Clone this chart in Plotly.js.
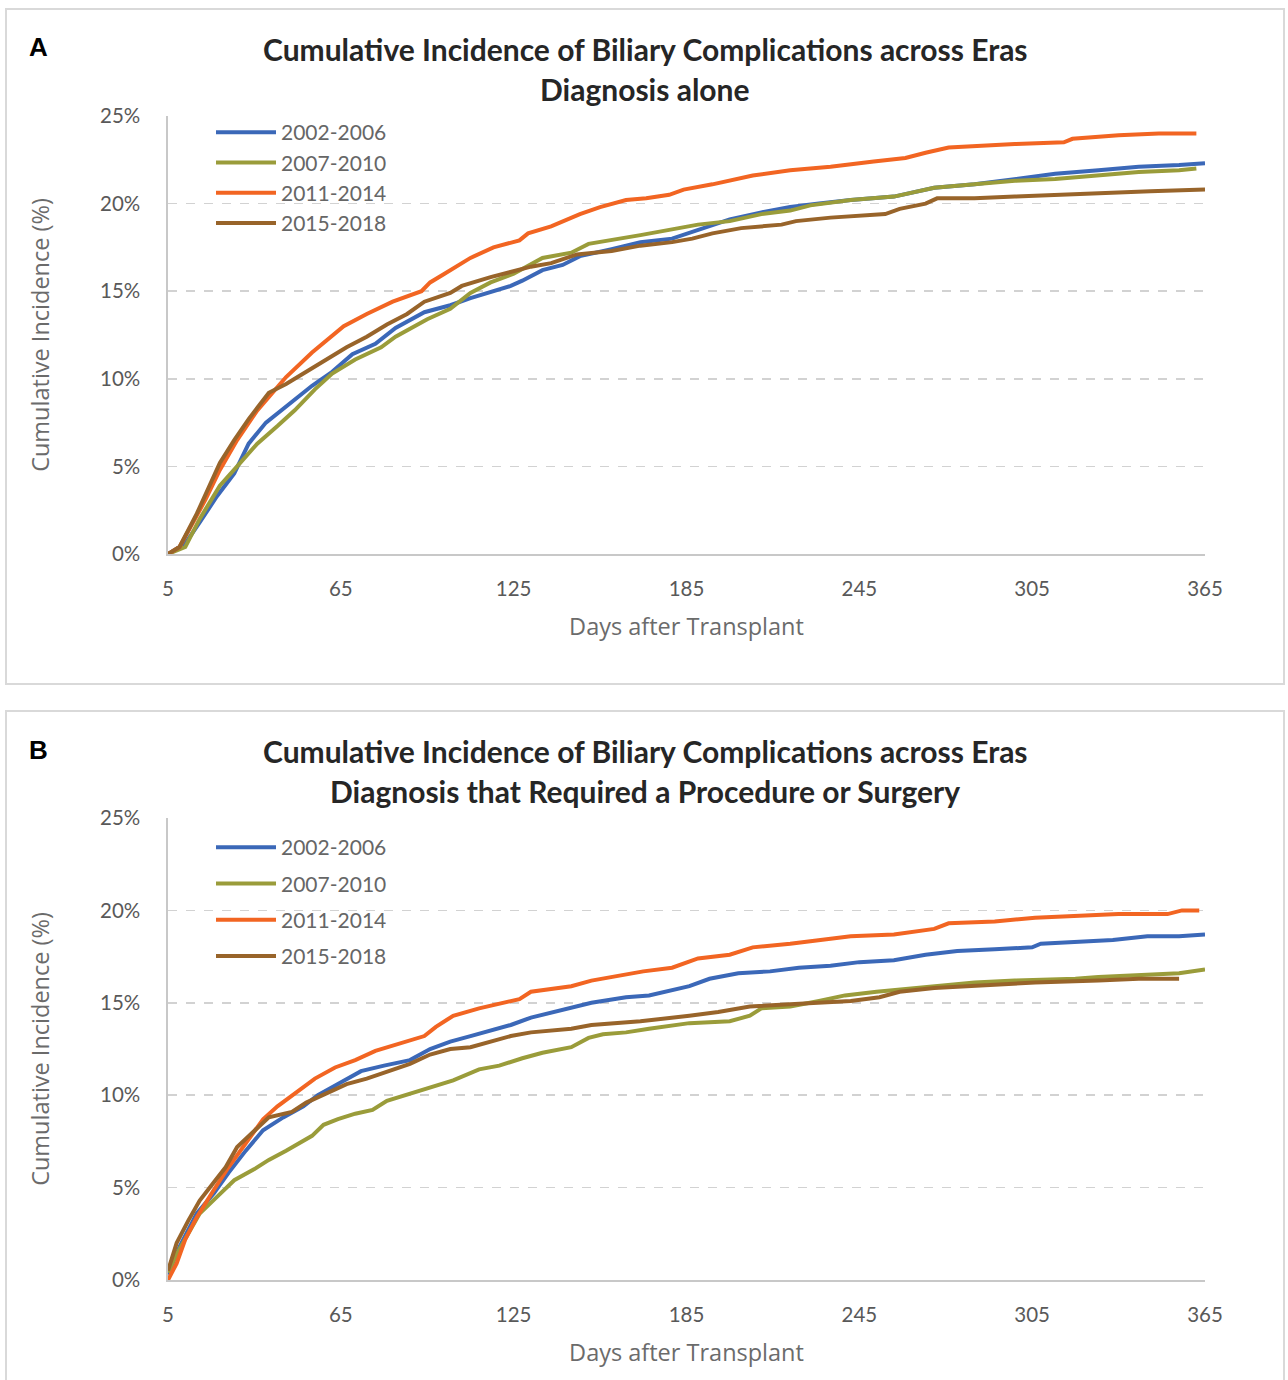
<!DOCTYPE html>
<html>
<head>
<meta charset="utf-8">
<script src="https://cdn.plot.ly/plotly-3.0.1.min.js"></script>
<style>
  html, body { margin: 0; padding: 0; background: #ffffff; }
  #wrap { position: relative; width: 1288px; height: 1380px; overflow: hidden; }
  .frame { position: absolute; box-sizing: border-box; border: 2px solid #d9d9d9; background: #fff; }
  .plot { position: absolute; left: 0; }
</style>
</head>
<body>
<div id="wrap">
  <div class="frame" style="left:5px; top:8px; width:1280px; height:677px;"></div>
  <div class="frame" style="left:5px; top:710px; width:1280px; height:680px;"></div>
  <div id="chartA" class="plot" style="top:0px;"></div>
  <div id="chartB" class="plot" style="top:700px;"></div>
</div>
<script>
// ---------------- DATA ----------------
var seriesNames = ["2002-2006", "2007-2010", "2011-2014", "2015-2018"];
var xTickVals = [5, 65, 125, 185, 245, 305, 365];
var yTickVals = [0, 5, 10, 15, 20, 25];

// Panel A: Diagnosis alone (days after transplant, cumulative incidence %)
var aDays2002 = [5, 11, 16, 22, 28, 33, 39, 46, 55, 62, 69, 77, 84, 94, 103, 110, 124, 128, 135, 142, 148, 159, 169, 180, 189, 200, 211, 221, 231, 242, 257, 271, 285, 299, 313, 328, 342, 356, 365];
var aVals2002 = [0, 0.6, 1.8, 3.3, 4.6, 6.3, 7.5, 8.4, 9.6, 10.4, 11.4, 12.0, 12.9, 13.8, 14.2, 14.6, 15.3, 15.6, 16.2, 16.5, 17.0, 17.4, 17.8, 18.0, 18.5, 19.1, 19.5, 19.8, 20.0, 20.2, 20.4, 20.9, 21.1, 21.4, 21.7, 21.9, 22.1, 22.2, 22.3];

var aDays2007 = [5, 11, 16, 23, 29, 36, 43, 49, 56, 62, 70, 79, 84, 95, 103, 110, 117, 125, 135, 145, 151, 159, 169, 179, 189, 200, 211, 221, 228, 242, 257, 271, 285, 299, 313, 328, 342, 356, 362];
var aVals2007 = [0, 0.4, 2.0, 3.9, 5.0, 6.3, 7.3, 8.2, 9.4, 10.3, 11.1, 11.8, 12.4, 13.4, 14.0, 14.9, 15.5, 16.0, 16.9, 17.2, 17.7, 17.9, 18.2, 18.5, 18.8, 19.0, 19.4, 19.6, 19.9, 20.2, 20.4, 20.9, 21.1, 21.3, 21.4, 21.6, 21.8, 21.9, 22.0];

var aDays2011 = [5, 9, 14, 18, 23, 29, 36, 46, 55, 60, 66, 74, 83, 93, 96, 101, 110, 118, 127, 130, 138, 148, 155, 164, 171, 179, 184, 194, 200, 208, 221, 235, 250, 261, 268, 276, 299, 316, 319, 335, 349, 362];
var aVals2011 = [0, 0.4, 1.9, 3.1, 4.8, 6.5, 8.2, 10.1, 11.5, 12.2, 13.0, 13.7, 14.4, 15.0, 15.5, 16.0, 16.9, 17.5, 17.9, 18.3, 18.7, 19.4, 19.8, 20.2, 20.3, 20.5, 20.8, 21.1, 21.3, 21.6, 21.9, 22.1, 22.4, 22.6, 22.9, 23.2, 23.4, 23.5, 23.7, 23.9, 24.0, 24.0];

var aDays2015 = [5, 9, 15, 19, 23, 28, 33, 40, 46, 53, 60, 67, 74, 81, 88, 94, 103, 107, 117, 124, 131, 138, 147, 159, 169, 180, 187, 194, 204, 218, 223, 235, 254, 259, 268, 272, 285, 299, 313, 328, 346, 365];
var aVals2015 = [0, 0.4, 2.3, 3.7, 5.2, 6.5, 7.7, 9.2, 9.7, 10.4, 11.1, 11.8, 12.4, 13.1, 13.7, 14.4, 14.9, 15.3, 15.8, 16.1, 16.4, 16.6, 17.1, 17.3, 17.6, 17.8, 18.0, 18.3, 18.6, 18.8, 19.0, 19.2, 19.4, 19.7, 20.0, 20.3, 20.3, 20.4, 20.5, 20.6, 20.7, 20.8];

// Panel B: Diagnosis that required a procedure or surgery
var bDays2002 = [5, 9, 15, 21, 26, 32, 38, 45, 52, 57, 64, 72, 80, 89, 96, 103, 110, 117, 124, 131, 145, 152, 164, 172, 186, 193, 203, 214, 224, 235, 245, 257, 268, 279, 292, 305, 308, 320, 333, 345, 356, 365];
var bVals2002 = [0.3, 1.8, 3.6, 4.7, 5.8, 7.0, 8.1, 8.8, 9.4, 10.0, 10.6, 11.3, 11.6, 11.9, 12.5, 12.9, 13.2, 13.5, 13.8, 14.2, 14.7, 15.0, 15.3, 15.4, 15.9, 16.3, 16.6, 16.7, 16.9, 17.0, 17.2, 17.3, 17.6, 17.8, 17.9, 18.0, 18.2, 18.3, 18.4, 18.6, 18.6, 18.7];

var bDays2007 = [5, 8, 12, 16, 22, 28, 35, 40, 46, 55, 59, 64, 70, 76, 81, 89, 97, 104, 113, 120, 128, 135, 145, 151, 156, 164, 172, 186, 200, 207, 211, 221, 231, 240, 251, 264, 285, 299, 320, 328, 342, 356, 365];
var bVals2007 = [0.4, 1.4, 2.5, 3.6, 4.5, 5.4, 6.0, 6.5, 7.0, 7.8, 8.4, 8.7, 9.0, 9.2, 9.7, 10.1, 10.5, 10.8, 11.4, 11.6, 12.0, 12.3, 12.6, 13.1, 13.3, 13.4, 13.6, 13.9, 14.0, 14.3, 14.7, 14.8, 15.1, 15.4, 15.6, 15.8, 16.1, 16.2, 16.3, 16.4, 16.5, 16.6, 16.8];

var bDays2011 = [5, 8, 11, 15, 21, 26, 32, 38, 43, 49, 56, 63, 70, 77, 86, 94, 98, 104, 113, 121, 127, 131, 145, 152, 162, 170, 180, 189, 200, 208, 221, 233, 242, 257, 271, 276, 292, 306, 320, 335, 352, 357, 363];
var bVals2011 = [0, 0.9, 2.2, 3.4, 4.9, 6.1, 7.4, 8.7, 9.4, 10.1, 10.9, 11.5, 11.9, 12.4, 12.8, 13.2, 13.7, 14.3, 14.7, 15.0, 15.2, 15.6, 15.9, 16.2, 16.5, 16.7, 16.9, 17.4, 17.6, 18.0, 18.2, 18.4, 18.6, 18.7, 19.0, 19.3, 19.4, 19.6, 19.7, 19.8, 19.8, 20.0, 20.0];

var bDays2015 = [5, 8, 12, 16, 21, 25, 29, 35, 40, 48, 53, 60, 67, 74, 81, 89, 96, 103, 110, 117, 124, 131, 145, 152, 169, 186, 196, 207, 228, 242, 252, 259, 271, 285, 306, 328, 342, 356];
var bVals2015 = [0.5, 2.0, 3.2, 4.3, 5.3, 6.1, 7.2, 8.1, 8.8, 9.1, 9.6, 10.1, 10.6, 10.9, 11.3, 11.7, 12.2, 12.5, 12.6, 12.9, 13.2, 13.4, 13.6, 13.8, 14.0, 14.3, 14.5, 14.8, 15.0, 15.1, 15.3, 15.6, 15.8, 15.9, 16.1, 16.2, 16.3, 16.3];

var titleMain = "Cumulative Incidence of Biliary Complications across Eras";
var subtitleA = "Diagnosis alone";
var subtitleB = "Diagnosis that Required a Procedure or Surgery";
var xTitle = "Days after Transplant";
var yTitle = "Cumulative Incidence (%)";

// ---------------- STYLE ----------------
var colors = ["#3b68b8", "#9a9c3a", "#f26522", "#98642a"];
var W = 1288;
var FONT = "Lato, 'Noto Sans', sans-serif";
var TXT = "#595959";

function buildTraces(daysList, valsList) {
  return daysList.map(function (d, i) {
    return {
      type: "scatter", mode: "lines", name: seriesNames[i],
      legendgroup: "g" + i,
      x: d, y: valsList[i],
      line: { color: colors[i], width: 4 }
    };
  });
}

function buildLayout(H, mt, mb, subtitle, letter, titleY1, titleY2, letterY, legendTop, groupGap) {
  var ml = 168, mr = 83;
  var pw = W - ml - mr, ph = H - mt - mb;
  function px(x) { return (x - ml) / pw; }
  function py(y) { return 1 - (y - mt) / ph; }
  var titleFont = { family: FONT, size: 30, color: "#262626", weight: 700 };
  var axTitleFont = { family: "'Open Sans', sans-serif", size: 23.5, color: "#6b6b6b" };
  return {
    width: W, height: H,
    margin: { l: ml, r: mr, t: mt, b: mb, pad: 0 },
    paper_bgcolor: "rgba(0,0,0,0)",
    plot_bgcolor: "rgba(0,0,0,0)",
    showlegend: true,
    legend: {
      x: px(211), y: py(legendTop), xanchor: "left", yanchor: "top",
      bgcolor: "rgba(0,0,0,0)", borderwidth: 0,
      font: { family: FONT, size: 21, color: "#666666" },
      itemwidth: 60, tracegroupgap: groupGap,
      traceorder: "grouped"
    },
    xaxis: {
      range: [5, 365], tickvals: xTickVals, ticktext: xTickVals.map(String),
      showgrid: false, zeroline: false,
      showline: true, linecolor: "#c8c8c8", linewidth: 2,
      ticks: "", ticklabelstandoff: 15,
      tickfont: { family: FONT, size: 20.5, color: TXT },
      title: { text: xTitle, standoff: 20, font: axTitleFont },
      fixedrange: true
    },
    yaxis: {
      range: [0, 25], tickvals: yTickVals, ticktext: yTickVals.map(function (v) { return v + "%"; }),
      showgrid: true, gridcolor: "#d2d2d2", gridwidth: 1.6, griddash: "dash",
      zeroline: false, showline: true, linecolor: "#c8c8c8", linewidth: 1.6,
      ticks: "", ticklabelstandoff: 22,
      tickfont: { family: FONT, size: 20.5, color: TXT },
      title: { text: yTitle, standoff: 44, font: axTitleFont },
      fixedrange: true
    },
    annotations: [
      { text: titleMain, xref: "paper", yref: "paper", x: px(645), y: py(titleY1), xanchor: "center", yanchor: "middle", showarrow: false, font: titleFont },
      { text: subtitle, xref: "paper", yref: "paper", x: px(645), y: py(titleY2), xanchor: "center", yanchor: "middle", showarrow: false, font: titleFont },
      { text: "<b>" + letter + "</b>", xref: "paper", yref: "paper", x: px(38), y: py(letterY), xanchor: "center", yanchor: "middle", showarrow: false, font: { family: "'Liberation Sans', Arial, sans-serif", size: 26, color: "#000000" } }
    ]
  };
}

var config = { displayModeBar: false, staticPlot: true };

Plotly.newPlot("chartA",
  buildTraces([aDays2002, aDays2007, aDays2011, aDays2015], [aVals2002, aVals2007, aVals2011, aVals2015]),
  buildLayout(695, 116, 141, subtitleA, "A", 49, 89, 47, 112, 0),
  config);

Plotly.newPlot("chartB",
  buildTraces([bDays2002, bDays2007, bDays2011, bDays2015], [bVals2002, bVals2007, bVals2011, bVals2015]),
  buildLayout(680, 118, 100, subtitleB, "B", 51, 91, 50, 127, 6),
  config);
</script>
</body>
</html>
